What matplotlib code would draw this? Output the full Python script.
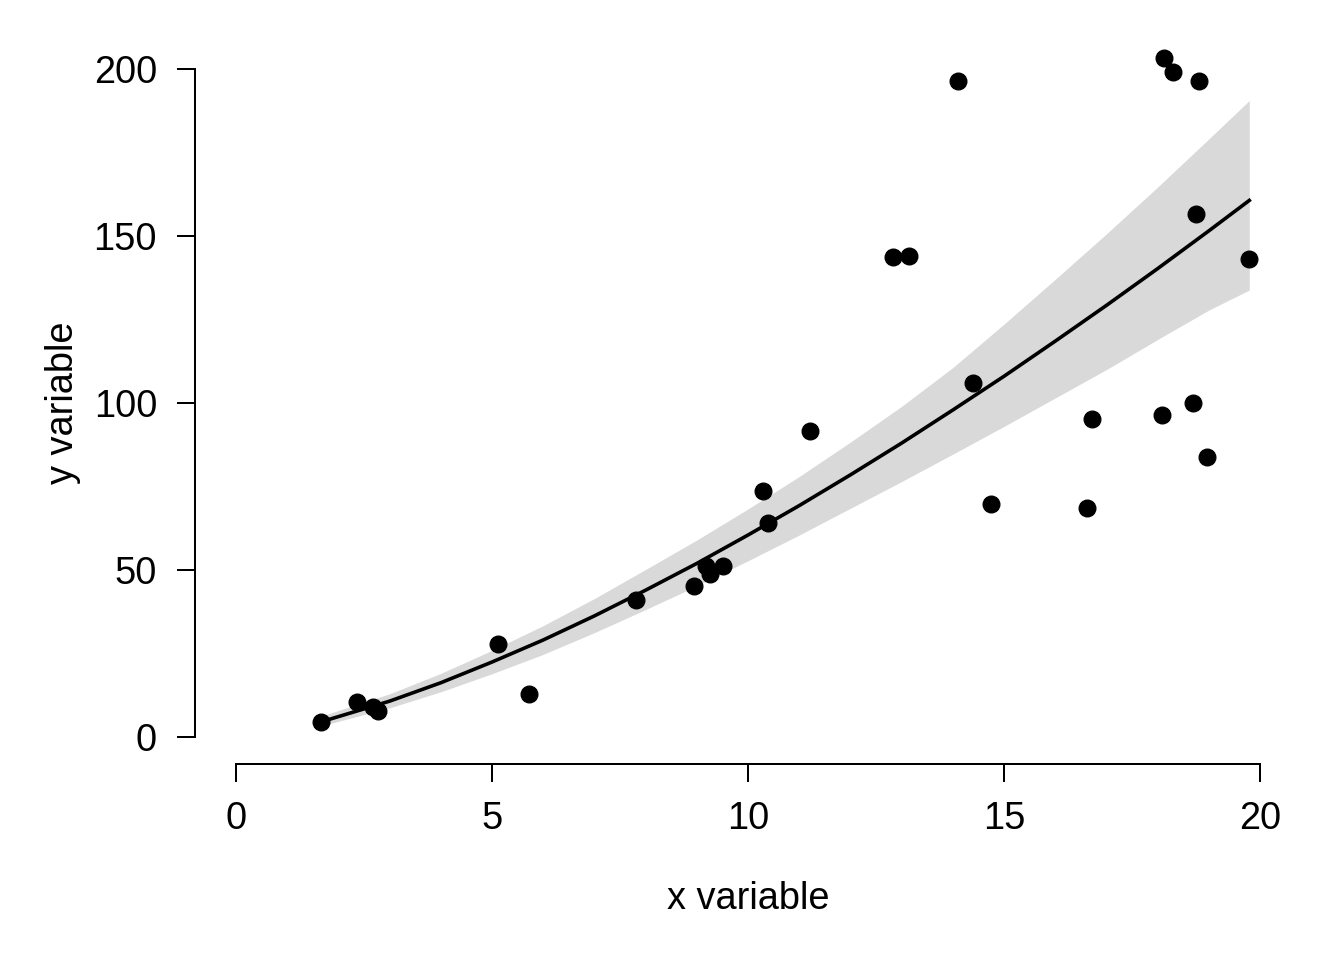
import numpy as np
import matplotlib
matplotlib.use('Agg')
import matplotlib.pyplot as plt

# observed points
x_obs = [1.66, 2.36, 2.68, 2.77, 5.12, 5.72, 7.81, 8.95, 9.18, 9.26, 9.51,
         10.29, 10.39, 11.21, 12.83, 13.14, 14.10, 14.39, 14.75, 16.62,
         16.72, 18.09, 18.13, 18.30, 18.69, 18.75, 18.81, 18.96, 19.79]
y_obs = [4.5, 10.5, 9.0, 7.8, 27.8, 12.9, 41.0, 45.2, 51.2, 48.8, 51.2,
         73.7, 64.1, 91.6, 143.7, 144.0, 196.4, 106.0, 69.8, 68.6,
         95.2, 96.4, 203.3, 199.1, 100.0, 156.6, 196.4, 83.8, 143.1]

# fitted curve and its band
x_fit = [1.66, 3, 4, 5, 6, 7, 8, 9, 10, 11, 12, 13, 14, 15, 16, 17, 18, 19, 19.79]
y_fit = [4.6, 10.8, 16.3, 22.5, 29.1, 36.3, 44.0, 52.0, 60.5, 69.3, 78.5,
         88.0, 97.9, 108.0, 118.5, 129.2, 140.2, 151.5, 160.6]
y_upper = [6.3, 13.0, 19.1, 26.0, 33.4, 41.5, 50.2, 59.0, 68.3, 78.0, 88.3,
           99.0, 110.6, 123.6, 137.0, 150.6, 164.6, 179.0, 190.5]
y_lower = [3.4, 8.8, 13.6, 19.0, 24.8, 31.3, 38.2, 45.3, 52.8, 60.5, 68.5,
           76.5, 84.7, 93.0, 101.5, 110.0, 119.0, 127.8, 133.8]

plt.rcParams['font.family'] = ['Liberation Sans', 'DejaVu Sans']
plt.rcParams['font.size'] = 28.5

fig = plt.figure(figsize = (14, 10), dpi = 96)
ax = fig.add_axes([195 / 1344, 1 - 764 / 960, 1106 / 1344, 722 / 960])

ax.fill_between(x_fit, y_lower, y_upper, color = '#d9d9d9', linewidth = 0, zorder = 1)
ax.plot(x_fit, y_fit, color = 'black', linewidth = 2.7, zorder = 2)
ax.plot(x_obs, y_obs, 'o', color = 'black', markersize = 12.5, zorder = 3)

ax.set_xlim(-0.8, 20.8)
ax.set_ylim(-8, 208)
ax.set_xticks([0, 5, 10, 15, 20])
ax.set_yticks([0, 50, 100, 150, 200])

for s in ['top', 'right']:
    ax.spines[s].set_visible(False)
ax.spines['left'].set_bounds(0, 200)
ax.spines['bottom'].set_bounds(0, 20)
for s in ['left', 'bottom']:
    ax.spines[s].set_linewidth(1.5)

ax.tick_params(axis = 'both', length = 13.5, width = 1.5, labelsize = 28.5)
ax.tick_params(axis = 'y', pad = 15)
ax.tick_params(axis = 'x', pad = 14)

ax.set_xlabel('x variable')
ax.set_ylabel('y variable')
ax.xaxis.set_label_coords(0.5, -(899 - 764) / 722)
ax.xaxis.label.set_va('center')
ax.yaxis.set_label_coords(-(195 - 63) / 1106, 0.5)
ax.yaxis.label.set_va('center')

plt.savefig('out.png', dpi = 96)
